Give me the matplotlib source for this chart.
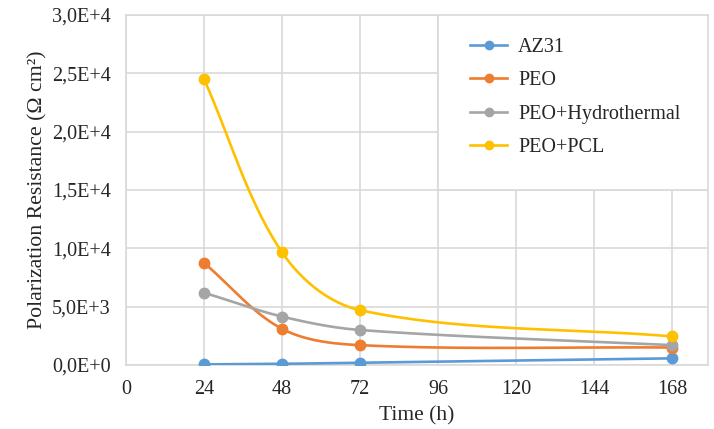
import numpy as np
import matplotlib
matplotlib.use("Agg")
import matplotlib.pyplot as plt
from matplotlib.patches import Rectangle
from matplotlib.ticker import FuncFormatter, MultipleLocator

plt.rcParams['font.family'] = ['Liberation Serif', 'DejaVu Serif']

time_h = [24, 48, 72, 168]
az31 = [50, 100, 200, 570]
peo = [8750, 3100, 1700, 1500]
peo_hydro = [6200, 4150, 3000, 1700]
peo_pcl = [24500, 9650, 4700, 2450]

series = [
    ("AZ31", az31, "#5B9BD5"),
    ("PEO", peo, "#ED7D31"),
    ("PEO+Hydrothermal", peo_hydro, "#A5A5A5"),
    ("PEO+PCL", peo_pcl, "#FFC000"),
]

X_MAX = 179
Y_MAX = 30000


def smooth(xs, ys, sx, sy, n=60, k=0.33):
    """Bezier curve through the points; control arms follow the neighbour
    direction and are scaled by each segment's own length (no overshoot)."""
    pts = np.column_stack([np.asarray(xs, float) * sx, np.asarray(ys, float) * sy])
    m = len(pts)
    dirs = []
    for i in range(m):
        a = pts[max(i - 1, 0)]
        b = pts[min(i + 1, m - 1)]
        d = b - a
        dirs.append(d / np.hypot(*d))
    out = [pts[0]]
    t = np.linspace(0, 1, n)[1:, None]
    for i in range(m - 1):
        p1, p2 = pts[i], pts[i + 1]
        L = np.hypot(*(p2 - p1))
        c1 = p1 + dirs[i] * L * k
        c2 = p2 - dirs[i + 1] * L * k
        seg = ((1 - t) ** 3) * p1 + 3 * ((1 - t) ** 2) * t * c1 + 3 * (1 - t) * t ** 2 * c2 + t ** 3 * p2
        out.extend(seg)
    out = np.array(out)
    return out[:, 0] / sx, out[:, 1] / sy


fig = plt.figure(figsize=(7.14, 4.29), dpi=100)
ax = fig.add_axes([126 / 714, 64 / 429, 582 / 714, 350 / 429])

sx = 582 / X_MAX
sy = 350 / Y_MAX
for name, vals, color in series:
    cx, cy = smooth(time_h, vals, sx, sy)
    ax.plot(cx, cy, color=color, lw=1.9, solid_capstyle='round', zorder=3)
    ax.plot(time_h, vals, 'o', color=color, ms=7.5, zorder=4)
    ax.plot([], [], '-o', color=color, lw=1.9, ms=6, label=name)

ax.set_xlim(0, X_MAX)
ax.set_ylim(0, Y_MAX)
ax.xaxis.set_major_locator(MultipleLocator(24))
ax.yaxis.set_major_locator(MultipleLocator(5000))


def sci_comma(v, pos):
    if v == 0:
        return "0,0E+0"
    exp = int(np.floor(np.log10(abs(v))))
    mant = v / 10 ** exp
    return f"{mant:.1f}".replace(".", ",") + f"E+{exp}"


ax.yaxis.set_major_formatter(FuncFormatter(sci_comma))
ax.grid(True, color="#D9D9D9", lw=1.2, zorder=0)
ax.set_axisbelow(True)
for s in ax.spines.values():
    s.set_color("#D9D9D9")
    s.set_linewidth(1.2)
ax.tick_params(length=0, labelsize=14.5, colors="#262626")
ax.tick_params(axis='y', pad=11)
ax.tick_params(axis='x', pad=11)

ax.set_xlabel("Time (h)", fontsize=15.5, color="#262626", labelpad=5)
ax.set_ylabel("Polarization Resistance (Ω cm²)", fontsize=15.7, color="#262626", labelpad=3)

# legend panel in the upper right corner of the plot area
box = Rectangle((0.536, 0.5), 0.464, 0.5, transform=ax.transAxes,
                facecolor="white", edgecolor="#D9D9D9", lw=1.2, zorder=5)
ax.add_patch(box)
leg = ax.legend(loc="upper left", bbox_to_anchor=(0.591, 0.934), frameon=False,
                fontsize=14.5, handlelength=1.85, labelspacing=0.70, handletextpad=0.55,
                borderpad=0, borderaxespad=0)
leg.set_zorder(6)
for t in leg.get_texts():
    t.set_color("#262626")

fig.savefig("out.png", dpi=100)
